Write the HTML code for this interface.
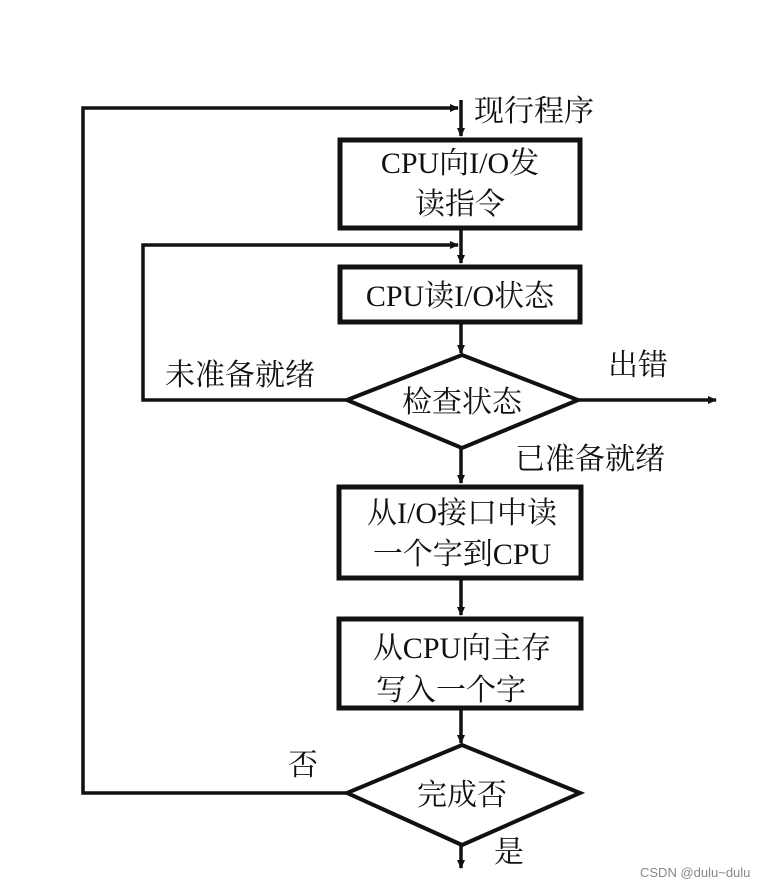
<!DOCTYPE html>
<html><head><meta charset="utf-8"><style>
body{margin:0;background:#fff;}
svg text{font-family:"Liberation Serif","Noto Serif CJK SC","Noto Sans CJK SC",serif;font-size:30px;fill:#111;}
</style></head><body>
<svg width="776" height="888" viewBox="0 0 776 888" xmlns="http://www.w3.org/2000/svg">
<defs><marker id="a" markerWidth="10" markerHeight="10" refX="8" refY="5" orient="auto" markerUnits="userSpaceOnUse"><path d="M0,1 L9,5 L0,9 z" fill="#111"/></marker></defs>
<g stroke="#111" stroke-width="3.5" fill="none">
<!-- outer loop -->
<polyline points="347,793 83,793 83,108 458,108" marker-end="url(#a)"/>
<line x1="461" y1="100" x2="461" y2="136" marker-end="url(#a)"/>
<!-- inner loop -->
<polyline points="347,400 143,400 143,245 458,245" marker-end="url(#a)"/>
<line x1="461" y1="228" x2="461" y2="263" marker-end="url(#a)"/>
<line x1="461" y1="322" x2="461" y2="353" marker-end="url(#a)"/>
<line x1="578" y1="400" x2="716" y2="400" marker-end="url(#a)"/>
<line x1="461" y1="448" x2="461" y2="483" marker-end="url(#a)"/>
<line x1="461" y1="578" x2="461" y2="615" marker-end="url(#a)"/>
<line x1="461" y1="708" x2="461" y2="743" marker-end="url(#a)"/>
<line x1="461" y1="845" x2="461" y2="868" marker-end="url(#a)"/>
</g>
<g stroke="#111" stroke-width="5" fill="#fff">
<rect x="340" y="140" width="240" height="88"/>
<rect x="340" y="267" width="240" height="55"/>
<polygon points="347,400 462,355 578,400 462,448" stroke-width="4"/>
<rect x="339" y="487" width="242" height="91"/>
<rect x="339" y="619" width="242" height="89"/>
<polygon points="347,793 462,745 580,793 462,845" stroke-width="4"/>
</g>
<text x="474" y="121">现行程序</text>
<text x="460" y="173" text-anchor="middle">CPU向I/O发</text>
<text x="460" y="214" text-anchor="middle">读指令</text>
<text x="460" y="306" text-anchor="middle">CPU读I/O状态</text>
<text x="462" y="412" text-anchor="middle">检查状态</text>
<text x="165" y="385">未准备就绪</text>
<text x="608" y="375">出错</text>
<text x="515" y="469">已准备就绪</text>
<text x="462" y="523" text-anchor="middle">从I/O接口中读</text>
<text x="462" y="564" text-anchor="middle">一个字到CPU</text>
<text x="462" y="658" text-anchor="middle">从CPU向主存</text>
<text x="451" y="700" text-anchor="middle">写入一个字</text>
<text x="462" y="805" text-anchor="middle">完成否</text>
<text x="288" y="775">否</text>
<text x="494" y="862">是</text>
<text x="640" y="877" style="font-family:'Liberation Sans',sans-serif;font-size:13px;fill:#888">CSDN @dulu~dulu</text>
</svg>
</body></html>
